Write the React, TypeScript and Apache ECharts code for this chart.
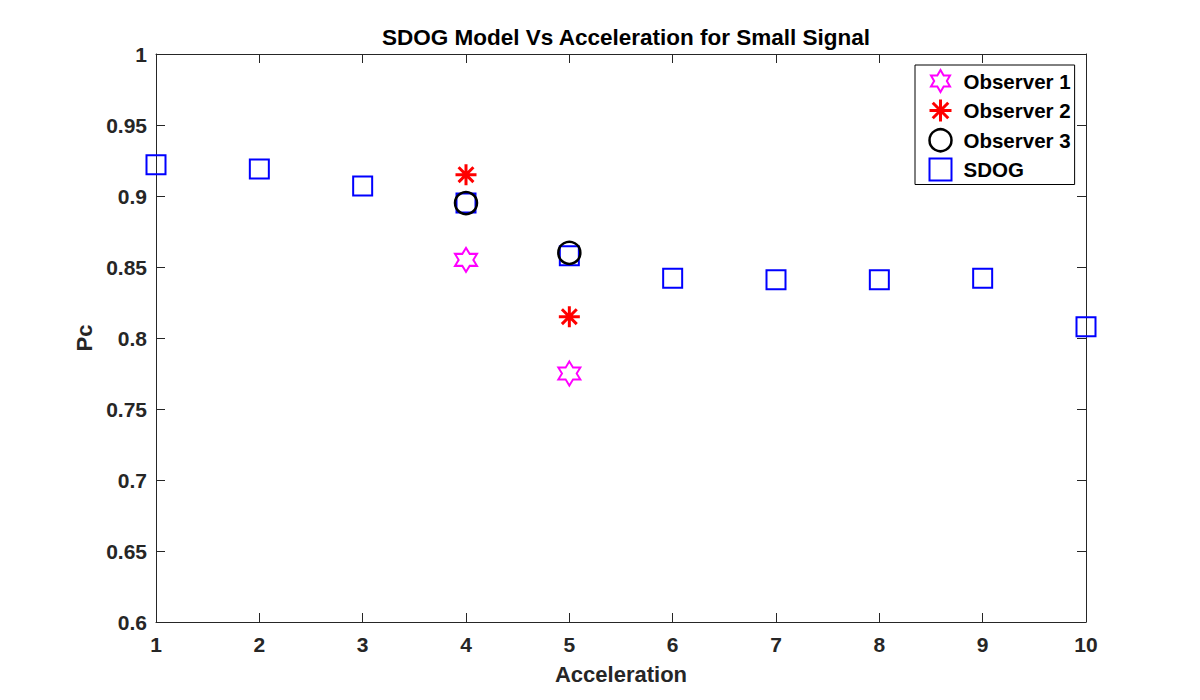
import React, { useEffect, useRef } from "react";
import * as echarts from "echarts";

const accel = [1, 2, 3, 4, 5, 6, 7, 8, 9, 10];
const sdog = [0.922, 0.919, 0.907, 0.895, 0.858, 0.842, 0.841, 0.841, 0.842, 0.808];
const obsX = [4, 5];
const observer1 = [0.855, 0.775];
const observer2 = [0.915, 0.815];
const observer3 = [0.895, 0.86];
const xTicks = { min: 1, max: 10, interval: 1 };
const yTicks = { min: 0.6, max: 1, interval: 0.05 };

const HEX =
  "path://M10 0 L12.887 5 L18.66 5 L15.774 10 L18.66 15 L12.887 15 L10 20 L7.113 15 L1.34 15 L4.226 10 L1.34 5 L7.113 5 Z";
const AST =
  "path://M10 0 L10 20 M0 10 L20 10 M2.93 2.93 L17.07 17.07 M17.07 2.93 L2.93 17.07";

const FONT = "'Liberation Sans', Arial, Helvetica, sans-serif";
const AXC = "#262626";

export default function App() {
  const ref = useRef<HTMLDivElement>(null);
  useEffect(() => {
    const chart = echarts.init(ref.current!, null, { renderer: "svg" });
    const pair = (xs: number[], ys: number[]) => xs.map((x, i) => [x, ys[i]]);
    const baseX = {
      type: "value",
      min: xTicks.min,
      max: xTicks.max,
      interval: xTicks.interval,
      splitLine: { show: false },
      axisLine: { show: true, lineStyle: { color: AXC, width: 1 } },
      axisTick: { show: true, inside: true, length: 9, lineStyle: { color: AXC } },
    };
    const baseY = {
      type: "value",
      min: yTicks.min,
      max: yTicks.max,
      interval: yTicks.interval,
      splitLine: { show: false },
      axisLine: { show: true, lineStyle: { color: AXC, width: 1 } },
      axisTick: { show: true, inside: true, length: 9, lineStyle: { color: AXC } },
    };
    const styles = {
      o1: { color: "rgba(0,0,0,0)", borderColor: "#ff00ff", borderWidth: 2, opacity: 1 },
      o2: { color: "rgba(0,0,0,0)", borderColor: "#ff0000", borderWidth: 3, opacity: 1 },
      o3: { color: "rgba(0,0,0,0)", borderColor: "#000000", borderWidth: 2.5, opacity: 1 },
      sd: { color: "rgba(0,0,0,0)", borderColor: "#0000ff", borderWidth: 2, opacity: 1 },
    };
    chart.setOption({
      animation: false,
      backgroundColor: "#ffffff",
      title: {
        text: "SDOG Model Vs Acceleration for Small Signal",
        left: 621,
        textAlign: "center",
        top: 21,
        textStyle: { fontFamily: FONT, fontWeight: "bold", fontSize: 22.5, color: "#000" },
      },
      grid: { left: 156, right: 114, top: 54, bottom: 78, containLabel: false },
      legend: {
        orient: "vertical",
        left: 915,
        top: 65,
        itemWidth: 22,
        itemHeight: 22,
        itemGap: 5,
        padding: [4, 4, 3, 13],
        backgroundColor: "#fff",
        borderColor: "#000",
        borderWidth: 1,
        textStyle: { fontFamily: FONT, fontWeight: "bold", fontSize: 20.5, color: "#000", padding: [0, 0, 0, 7] },
        data: [
          { name: "Observer 1", icon: HEX, itemStyle: styles.o1 },
          { name: "Observer 2", icon: AST, itemStyle: styles.o2 },
          { name: "Observer 3", icon: "circle", itemStyle: styles.o3 },
          { name: "SDOG", icon: "rect", itemStyle: styles.sd },
        ],
      },
      xAxis: [
        {
          ...baseX,
          position: "bottom",
          name: "Acceleration",
          nameLocation: "middle",
          nameGap: 41,
          nameTextStyle: { fontFamily: FONT, fontWeight: "bold", fontSize: 22, color: AXC },
          axisLabel: { fontFamily: FONT, fontWeight: "bold", fontSize: 21, color: AXC, margin: 12 },
        },
        { ...baseX, position: "top", axisLabel: { show: false } },
      ],
      yAxis: [
        {
          ...baseY,
          position: "left",
          name: "Pc",
          nameLocation: "middle",
          nameGap: 60,
          nameRotate: 90,
          nameTextStyle: { fontFamily: FONT, fontWeight: "bold", fontSize: 22, color: AXC },
          axisLabel: {
            fontFamily: FONT,
            fontWeight: "bold",
            fontSize: 21,
            color: AXC,
            margin: 9,
            formatter: (v: number) => String(+v.toFixed(2)),
          },
        },
        { ...baseY, position: "right", axisLabel: { show: false } },
      ],
      series: [
        {
          name: "SDOG",
          type: "scatter",
          data: pair(accel, sdog),
          symbol: "rect",
          symbolSize: 19,
          itemStyle: styles.sd,
          z: 2,
        },
        {
          name: "Observer 1",
          type: "scatter",
          data: pair(obsX, observer1),
          symbol: HEX,
          symbolSize: [22, 24],
          itemStyle: styles.o1,
          z: 3,
        },
        {
          name: "Observer 2",
          type: "scatter",
          data: pair(obsX, observer2),
          symbol: AST,
          symbolSize: 21,
          itemStyle: styles.o2,
          z: 3,
        },
        {
          name: "Observer 3",
          type: "scatter",
          data: pair(obsX, observer3),
          symbol: "circle",
          symbolSize: 22,
          itemStyle: styles.o3,
          z: 3,
        },
      ],
    });
    return () => chart.dispose();
  }, []);
  return (
    <div
      ref={ref}
      style={{ position: "fixed", left: 0, top: 0, width: 1200, height: 700, background: "#fff" }}
    />
  );
}
